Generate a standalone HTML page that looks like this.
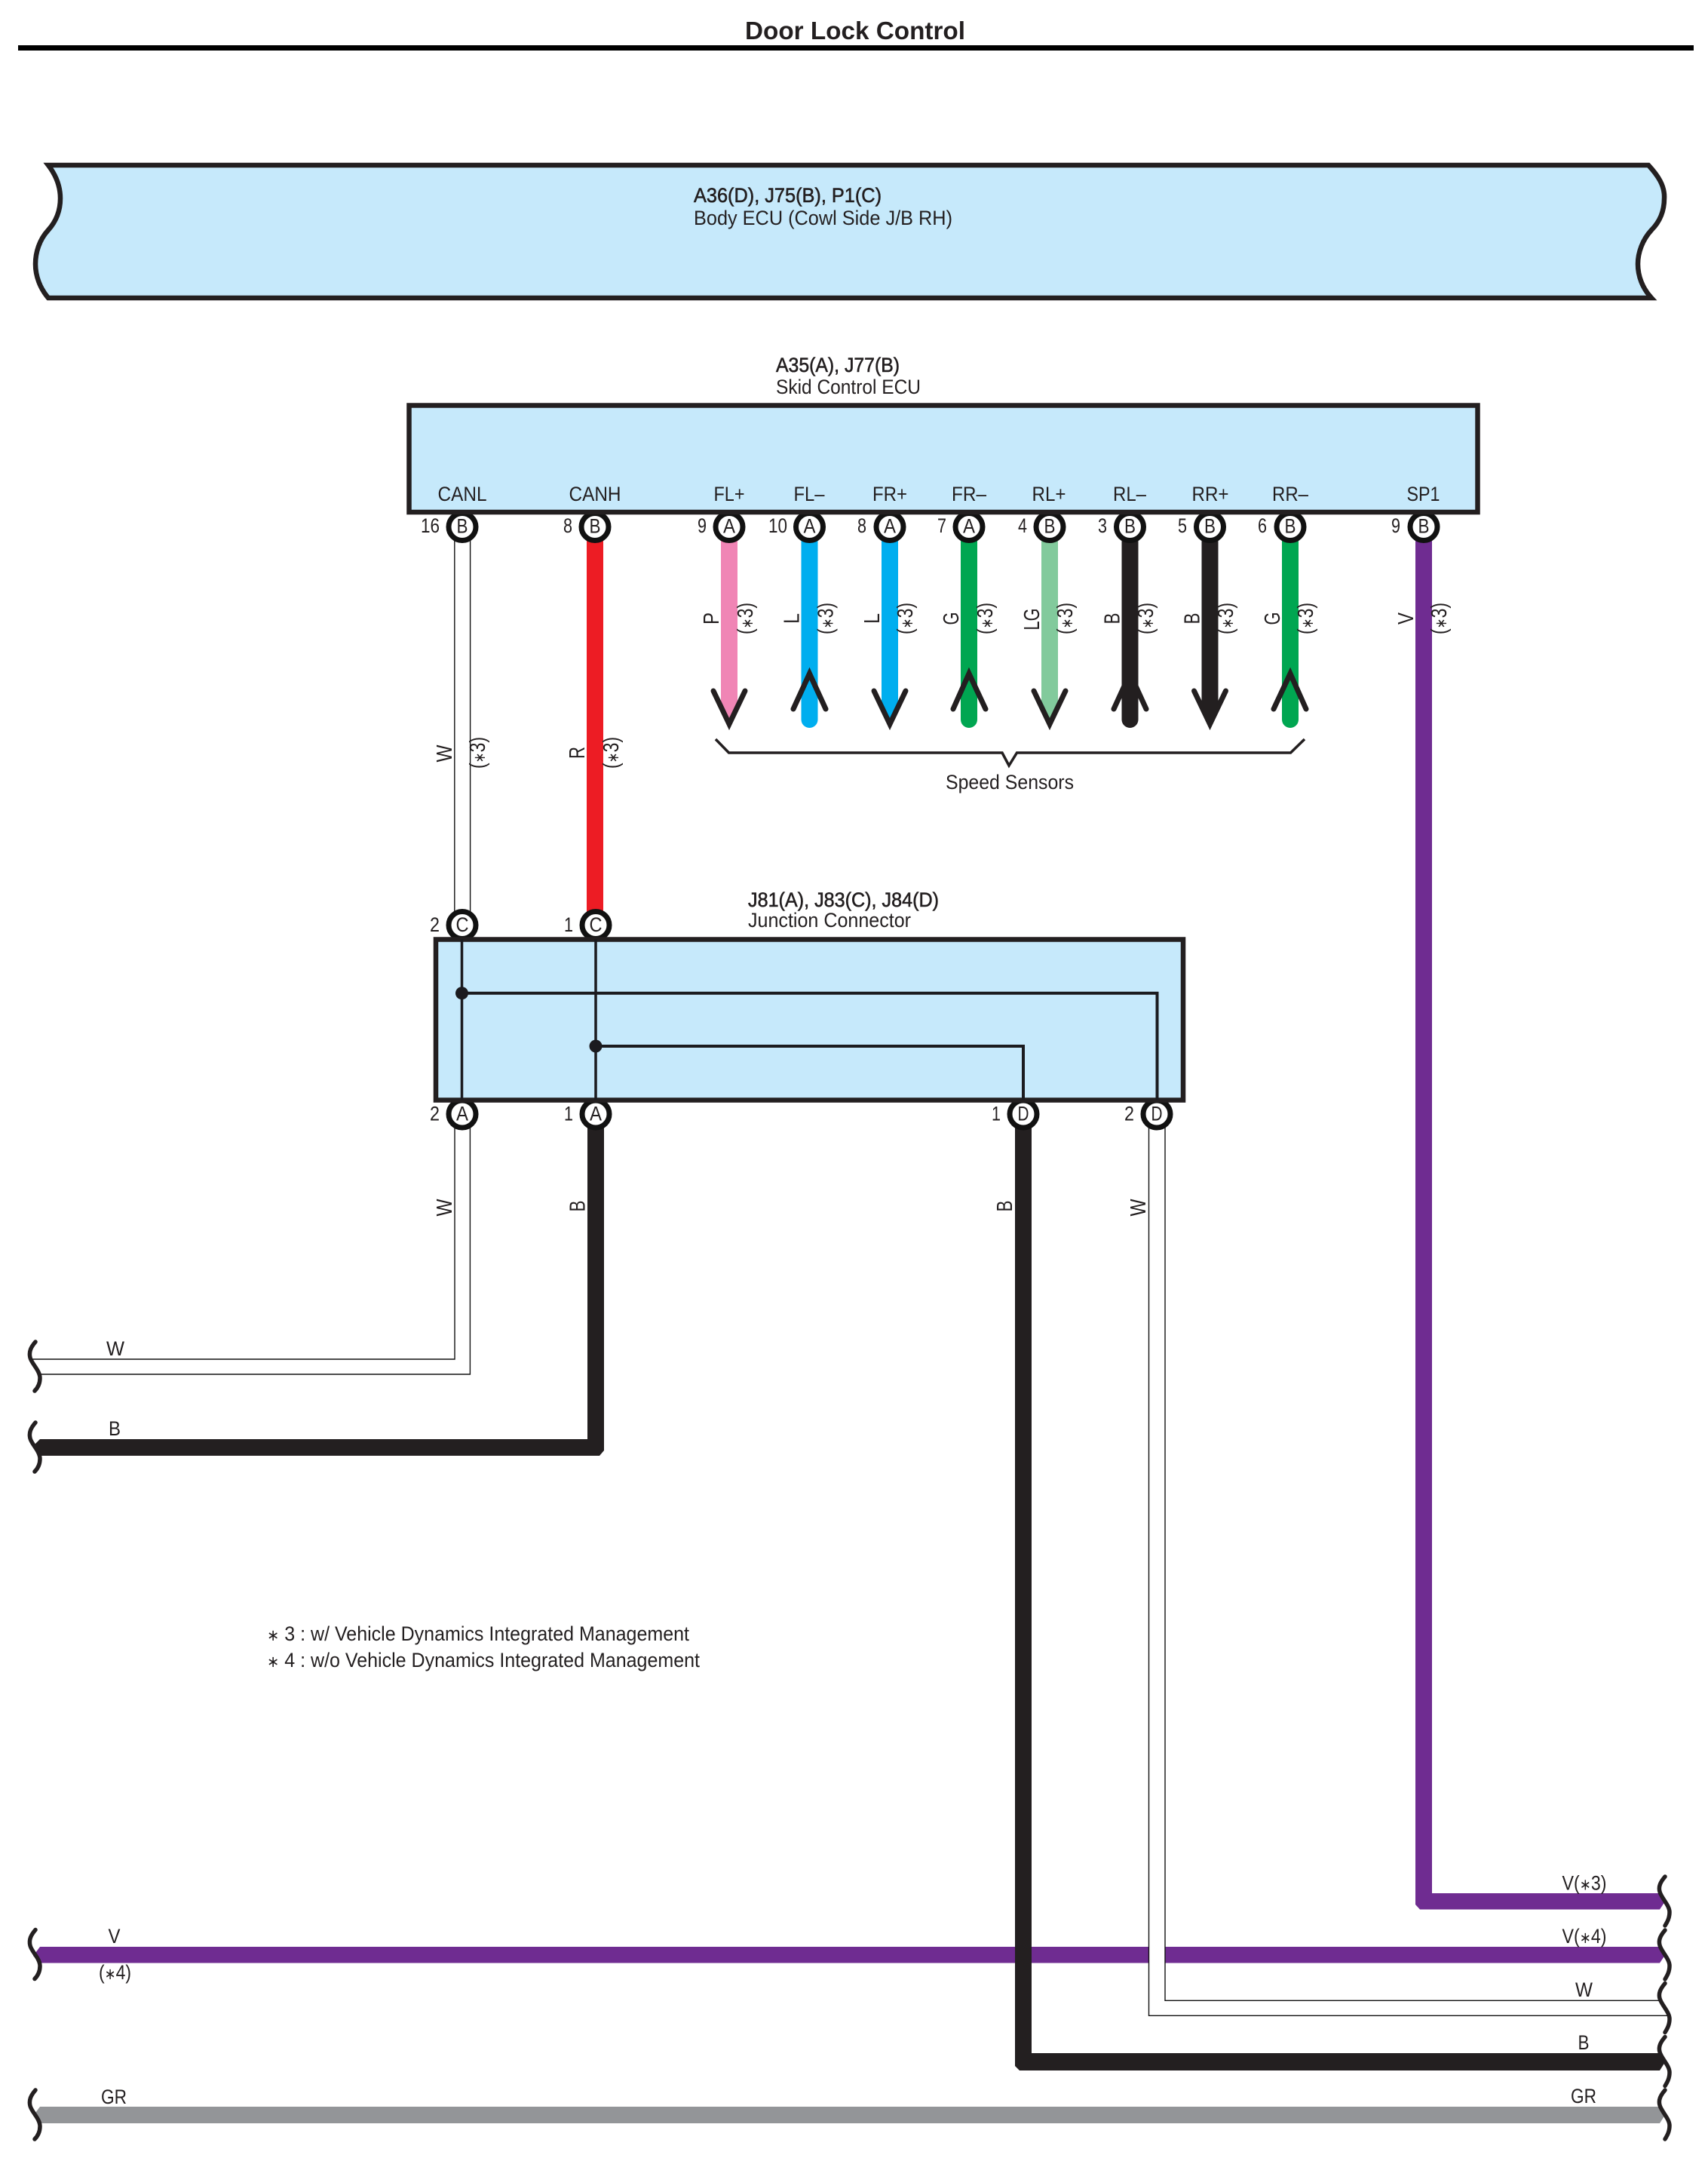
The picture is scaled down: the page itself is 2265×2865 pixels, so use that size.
<!DOCTYPE html>
<html><head><meta charset="utf-8"><title>Door Lock Control</title>
<style>
html,body{margin:0;padding:0;background:#fff}
svg{display:block}
text{font-family:"Liberation Sans",sans-serif;fill:#231f20;font-size:27px}
tspan{font-size:21px}
.b{font-weight:bold}
.s{stroke:#231f20;stroke-width:.6px}
.m{text-anchor:middle}
.r{font-size:29px;text-anchor:middle}
.pin circle{fill:#fff;stroke:#111;stroke-width:7}
.wv{fill:none;stroke:#231f20;stroke-width:5.5;stroke-linecap:round}
.th{fill:none;stroke:#111;stroke-width:1.4}
.ar{fill:none;stroke:#231f20;stroke-width:7;stroke-linecap:round;stroke-linejoin:miter}
</style></head>
<body>
<svg xmlns="http://www.w3.org/2000/svg" width="2265" height="2865" viewBox="0 0 2265 2865">
<rect width="2265" height="2865" fill="#fff"/>

<!-- title -->
<text x="988" y="52" class="b" style="font-size:33px" textLength="292" lengthAdjust="spacingAndGlyphs">Door Lock Control</text>
<rect x="24" y="60" width="2222" height="7" fill="#000"/>

<!-- body ecu -->
<path d="M64 219H2186C2198 232 2208 246 2207 263C2207 282 2200 295 2190 305C2178 318 2172 335 2172 350C2172 366 2178 382 2190 395H64C53 382 47 366 47 350C47 335 52 318 64 305C73 295 80 282 80 263C80 246 74 232 64 219Z" fill="#c6e9fb" stroke="#231f20" stroke-width="6.5"/>
<text x="920" y="268" class="s" textLength="249" lengthAdjust="spacingAndGlyphs">A36(D), J75(B), P1(C)</text>
<text x="920" y="298" textLength="343" lengthAdjust="spacingAndGlyphs">Body ECU (Cowl Side J/B RH)</text>

<!-- skid title -->
<text x="1029" y="493" class="s" textLength="164" lengthAdjust="spacingAndGlyphs">A35(A), J77(B)</text>
<text x="1029" y="522" textLength="192" lengthAdjust="spacingAndGlyphs">Skid Control ECU</text>

<!-- long wires -->
<path d="M53 2581H2200L2208 2592L2201 2602.5H53L44 2593Z" fill="#6f2c91"/>
<path d="M53 2793H2200L2208 2804L2201 2815H53L44 2805Z" fill="#939598"/>
<path d="M1877 698H1899V2510H2200L2208 2521L2201 2531.5H1883L1877 2525Z" fill="#6f2c91"/>
<path d="M779 1477H801V1923L795 1930H53L44 1917L53 1908H779Z" fill="#231f20"/>
<path d="M1524 1477H1545V2652H2204V2672H1524Z" fill="#fff"/>
<path class="th" d="M1545 1477V2652.3H2201"/>
<path class="th" d="M1523.5 1477V2672.3H2213"/>
<path d="M1346 1477H1368V2722H2200L2208 2734L2201 2745H1352L1346 2739Z" fill="#231f20"/>
<path class="th" d="M603 1477V1802H42"/>
<path class="th" d="M623.4 1477V1822H52"/>

<!-- W top -->
<path class="th" d="M602.8 698V1226"/>
<path class="th" d="M623.6 698V1226"/>
<!-- R -->
<rect x="778" y="698" width="22" height="520" fill="#ed1c24"/>

<!-- sensor wires -->
<path d="M956 698H978V936L967 960L956 936Z" fill="#f085b5"/>
<path d="M1062.5 698H1084.5V954A11 11 0 0 1 1062.5 954Z" fill="#00aeef"/>
<path d="M1169 698H1191V936L1180 960L1169 936Z" fill="#00aeef"/>
<path d="M1274 698H1296V954A11 11 0 0 1 1274 954Z" fill="#00a651"/>
<path d="M1381 698H1403V936L1392 960L1381 936Z" fill="#82ca9c"/>
<path d="M1487.5 698H1509.5V954A11 11 0 0 1 1487.5 954Z" fill="#231f20"/>
<path d="M1593.5 698H1615.5V936L1604.5 960L1593.5 936Z" fill="#231f20"/>
<path d="M1700 698H1722V954A11 11 0 0 1 1700 954Z" fill="#00a651"/>

<!-- arrowheads -->
<path class="ar" d="M946 916L967 960L988 916"/>
<path class="ar" d="M1052 940L1073.5 893L1095 940"/>
<path class="ar" d="M1159 916L1180 960L1201 916"/>
<path class="ar" d="M1264 940L1285 893L1307 940"/>
<path class="ar" d="M1371 916L1392 960L1413 916"/>
<path class="ar" d="M1477 940L1498.5 893L1520 940"/>
<path class="ar" d="M1583.5 916L1604.5 960L1625.5 916"/>
<path class="ar" d="M1689 940L1711 893L1732 940"/>

<!-- pins -->
<g class="pin">
<circle cx="613" cy="698.5" r="18"/><circle cx="789" cy="698.5" r="18"/><circle cx="967" cy="698.5" r="18"/><circle cx="1073.5" cy="698.5" r="18"/><circle cx="1180" cy="698.5" r="18"/><circle cx="1285" cy="698.5" r="18"/><circle cx="1392" cy="698.5" r="18"/><circle cx="1498.5" cy="698.5" r="18"/><circle cx="1604.5" cy="698.5" r="18"/><circle cx="1711" cy="698.5" r="18"/><circle cx="1888" cy="698.5" r="18"/>
<circle cx="613" cy="1226.5" r="18"/><circle cx="790" cy="1226.5" r="18"/>
<circle cx="613" cy="1477" r="18"/><circle cx="790" cy="1477" r="18"/><circle cx="1357" cy="1477" r="18"/><circle cx="1534" cy="1477" r="18"/>
</g>

<!-- skid box -->
<rect x="542.5" y="537.5" width="1417" height="141.5" fill="#c6e9fb" stroke="#231f20" stroke-width="6.5"/>
<text x="613" y="664" class="m" textLength="65" lengthAdjust="spacingAndGlyphs">CANL</text>
<text x="789" y="664" class="m" textLength="69" lengthAdjust="spacingAndGlyphs">CANH</text>
<text x="967" y="664" class="m" textLength="41" lengthAdjust="spacingAndGlyphs">FL+</text>
<text x="1073" y="664" class="m" textLength="41" lengthAdjust="spacingAndGlyphs">FL–</text>
<text x="1180" y="664" class="m" textLength="46" lengthAdjust="spacingAndGlyphs">FR+</text>
<text x="1285" y="664" class="m" textLength="46" lengthAdjust="spacingAndGlyphs">FR–</text>
<text x="1391" y="664" class="m" textLength="45" lengthAdjust="spacingAndGlyphs">RL+</text>
<text x="1498" y="664" class="m" textLength="44" lengthAdjust="spacingAndGlyphs">RL–</text>
<text x="1605" y="664" class="m" textLength="49" lengthAdjust="spacingAndGlyphs">RR+</text>
<text x="1711" y="664" class="m" textLength="48" lengthAdjust="spacingAndGlyphs">RR–</text>
<text x="1887.5" y="664" class="m" textLength="44" lengthAdjust="spacingAndGlyphs">SP1</text>

<!-- pin letters -->
<text x="613" y="706.5" class="m" textLength="15" lengthAdjust="spacingAndGlyphs">B</text>
<text x="789" y="706.5" class="m" textLength="15" lengthAdjust="spacingAndGlyphs">B</text>
<text x="967" y="706.5" class="m" textLength="16" lengthAdjust="spacingAndGlyphs">A</text>
<text x="1073.5" y="706.5" class="m" textLength="16" lengthAdjust="spacingAndGlyphs">A</text>
<text x="1180" y="706.5" class="m" textLength="16" lengthAdjust="spacingAndGlyphs">A</text>
<text x="1285" y="706.5" class="m" textLength="16" lengthAdjust="spacingAndGlyphs">A</text>
<text x="1392" y="706.5" class="m" textLength="15" lengthAdjust="spacingAndGlyphs">B</text>
<text x="1498.5" y="706.5" class="m" textLength="15" lengthAdjust="spacingAndGlyphs">B</text>
<text x="1604.5" y="706.5" class="m" textLength="15" lengthAdjust="spacingAndGlyphs">B</text>
<text x="1711" y="706.5" class="m" textLength="15" lengthAdjust="spacingAndGlyphs">B</text>
<text x="1888" y="706.5" class="m" textLength="15" lengthAdjust="spacingAndGlyphs">B</text>

<!-- pin numbers -->
<text x="558" y="706" textLength="25" lengthAdjust="spacingAndGlyphs">16</text>
<text x="747" y="706" textLength="12" lengthAdjust="spacingAndGlyphs">8</text>
<text x="925" y="706" textLength="12" lengthAdjust="spacingAndGlyphs">9</text>
<text x="1019" y="706" textLength="25" lengthAdjust="spacingAndGlyphs">10</text>
<text x="1137" y="706" textLength="12" lengthAdjust="spacingAndGlyphs">8</text>
<text x="1243" y="706" textLength="12" lengthAdjust="spacingAndGlyphs">7</text>
<text x="1350" y="706" textLength="12" lengthAdjust="spacingAndGlyphs">4</text>
<text x="1456" y="706" textLength="12" lengthAdjust="spacingAndGlyphs">3</text>
<text x="1562" y="706" textLength="12" lengthAdjust="spacingAndGlyphs">5</text>
<text x="1668" y="706" textLength="12" lengthAdjust="spacingAndGlyphs">6</text>
<text x="1845" y="706" textLength="12" lengthAdjust="spacingAndGlyphs">9</text>

<!-- rotated sensor labels -->
<text class="r" transform="translate(953,820) rotate(-90)" textLength="16" lengthAdjust="spacingAndGlyphs">P</text>
<text class="r" transform="translate(998,820) rotate(-90)" textLength="42" lengthAdjust="spacingAndGlyphs">(<tspan>∗</tspan>3)</text>
<text class="r" transform="translate(1059.5,820) rotate(-90)" textLength="14" lengthAdjust="spacingAndGlyphs">L</text>
<text class="r" transform="translate(1104.5,820) rotate(-90)" textLength="42" lengthAdjust="spacingAndGlyphs">(<tspan>∗</tspan>3)</text>
<text class="r" transform="translate(1166,820) rotate(-90)" textLength="14" lengthAdjust="spacingAndGlyphs">L</text>
<text class="r" transform="translate(1210,820) rotate(-90)" textLength="42" lengthAdjust="spacingAndGlyphs">(<tspan>∗</tspan>3)</text>
<text class="r" transform="translate(1271,820) rotate(-90)" textLength="17" lengthAdjust="spacingAndGlyphs">G</text>
<text class="r" transform="translate(1316,820) rotate(-90)" textLength="42" lengthAdjust="spacingAndGlyphs">(<tspan>∗</tspan>3)</text>
<text class="r" transform="translate(1378,821) rotate(-90)" textLength="29" lengthAdjust="spacingAndGlyphs">LG</text>
<text class="r" transform="translate(1422,820) rotate(-90)" textLength="42" lengthAdjust="spacingAndGlyphs">(<tspan>∗</tspan>3)</text>
<text class="r" transform="translate(1484.5,820) rotate(-90)" textLength="15" lengthAdjust="spacingAndGlyphs">B</text>
<text class="r" transform="translate(1529,820) rotate(-90)" textLength="42" lengthAdjust="spacingAndGlyphs">(<tspan>∗</tspan>3)</text>
<text class="r" transform="translate(1590.5,820) rotate(-90)" textLength="15" lengthAdjust="spacingAndGlyphs">B</text>
<text class="r" transform="translate(1635,820) rotate(-90)" textLength="42" lengthAdjust="spacingAndGlyphs">(<tspan>∗</tspan>3)</text>
<text class="r" transform="translate(1697,820) rotate(-90)" textLength="17" lengthAdjust="spacingAndGlyphs">G</text>
<text class="r" transform="translate(1741,820) rotate(-90)" textLength="42" lengthAdjust="spacingAndGlyphs">(<tspan>∗</tspan>3)</text>
<text class="r" transform="translate(1874,820) rotate(-90)" textLength="16" lengthAdjust="spacingAndGlyphs">V</text>
<text class="r" transform="translate(1918,820) rotate(-90)" textLength="42" lengthAdjust="spacingAndGlyphs">(<tspan>∗</tspan>3)</text>

<text class="r" transform="translate(599,999) rotate(-90)" textLength="23" lengthAdjust="spacingAndGlyphs">W</text>
<text class="r" transform="translate(643,998) rotate(-90)" textLength="42" lengthAdjust="spacingAndGlyphs">(<tspan>∗</tspan>3)</text>
<text class="r" transform="translate(775,998) rotate(-90)" textLength="16" lengthAdjust="spacingAndGlyphs">R</text>
<text class="r" transform="translate(820,998) rotate(-90)" textLength="42" lengthAdjust="spacingAndGlyphs">(<tspan>∗</tspan>3)</text>

<!-- brace -->
<path d="M949 980L966.5 998H1329L1338 1015L1348.5 998H1711.5L1730 980" fill="none" stroke="#231f20" stroke-width="3.5"/>
<text x="1339" y="1046" class="m" textLength="170" lengthAdjust="spacingAndGlyphs">Speed Sensors</text>

<!-- junction -->
<text x="992" y="1202" class="s" textLength="253" lengthAdjust="spacingAndGlyphs">J81(A), J83(C), J84(D)</text>
<text x="992" y="1229" textLength="216" lengthAdjust="spacingAndGlyphs">Junction Connector</text>
<rect x="578" y="1245.5" width="991" height="213" fill="#c6e9fb" stroke="#231f20" stroke-width="6.5"/>
<path d="M612.5 1245V1458M790 1245V1458" fill="none" stroke="#1b1b1f" stroke-width="3.5"/>
<path d="M612.5 1316.7H1534.5V1458M790 1387H1357V1458" fill="none" stroke="#1b1b1f" stroke-width="4"/>
<circle cx="612.5" cy="1316.7" r="8.5" fill="#1b1b1f"/>
<circle cx="790" cy="1387" r="8.5" fill="#1b1b1f"/>

<text x="613" y="1235" class="m" textLength="17" lengthAdjust="spacingAndGlyphs">C</text>
<text x="790" y="1235" class="m" textLength="17" lengthAdjust="spacingAndGlyphs">C</text>
<text x="613" y="1485.5" class="m" textLength="16" lengthAdjust="spacingAndGlyphs">A</text>
<text x="790" y="1485.5" class="m" textLength="16" lengthAdjust="spacingAndGlyphs">A</text>
<text x="1357" y="1485.5" class="m" textLength="15" lengthAdjust="spacingAndGlyphs">D</text>
<text x="1534" y="1485.5" class="m" textLength="15" lengthAdjust="spacingAndGlyphs">D</text>
<text x="570" y="1235" textLength="13" lengthAdjust="spacingAndGlyphs">2</text>
<text x="748" y="1235" textLength="12" lengthAdjust="spacingAndGlyphs">1</text>
<text x="570" y="1485.5" textLength="13" lengthAdjust="spacingAndGlyphs">2</text>
<text x="748" y="1485.5" textLength="12" lengthAdjust="spacingAndGlyphs">1</text>
<text x="1315" y="1485.5" textLength="12" lengthAdjust="spacingAndGlyphs">1</text>
<text x="1491" y="1485.5" textLength="13" lengthAdjust="spacingAndGlyphs">2</text>

<text class="r" transform="translate(599,1601) rotate(-90)" textLength="23" lengthAdjust="spacingAndGlyphs">W</text>
<text class="r" transform="translate(775.5,1599) rotate(-90)" textLength="15" lengthAdjust="spacingAndGlyphs">B</text>
<text class="r" transform="translate(1342,1599) rotate(-90)" textLength="15" lengthAdjust="spacingAndGlyphs">B</text>
<text class="r" transform="translate(1519,1601) rotate(-90)" textLength="23" lengthAdjust="spacingAndGlyphs">W</text>

<!-- left labels -->
<text x="153" y="1797" class="m" textLength="24" lengthAdjust="spacingAndGlyphs">W</text>
<text x="152" y="1903" class="m" textLength="16" lengthAdjust="spacingAndGlyphs">B</text>
<text x="151.5" y="2576" class="m" textLength="16" lengthAdjust="spacingAndGlyphs">V</text>
<text x="152.5" y="2624" class="m" textLength="43" lengthAdjust="spacingAndGlyphs">(<tspan>∗</tspan>4)</text>
<text x="151" y="2789" class="m" textLength="34" lengthAdjust="spacingAndGlyphs">GR</text>

<!-- right labels -->
<text x="2101" y="2505.5" class="m" textLength="59" lengthAdjust="spacingAndGlyphs">V(<tspan>∗</tspan>3)</text>
<text x="2101" y="2576" class="m" textLength="59" lengthAdjust="spacingAndGlyphs">V(<tspan>∗</tspan>4)</text>
<text x="2100.5" y="2647" class="m" textLength="23" lengthAdjust="spacingAndGlyphs">W</text>
<text x="2100" y="2717" class="m" textLength="15" lengthAdjust="spacingAndGlyphs">B</text>
<text x="2100" y="2788" class="m" textLength="34" lengthAdjust="spacingAndGlyphs">GR</text>

<!-- legend -->
<text x="354" y="2175" textLength="560" lengthAdjust="spacingAndGlyphs"><tspan>∗</tspan> 3 : w/ Vehicle Dynamics Integrated Management</text>
<text x="354" y="2210" textLength="574" lengthAdjust="spacingAndGlyphs"><tspan>∗</tspan> 4 : w/o Vehicle Dynamics Integrated Management</text>

<!-- break waves left -->
<path class="wv" d="M47 1779c-6 7-9 13-7 21c2 8 13 17 13 27c0 8-3 13-7 17"/>
<path class="wv" d="M47 1886c-6 7-9 13-7 21c2 8 13 17 13 27c0 8-3 13-7 17"/>
<path class="wv" d="M47 2558.5c-6 7-9 13-7 21c2 8 13 17 13 27c0 8-3 13-7 17"/>
<path class="wv" d="M47 2771c-6 7-9 13-7 21c2 8 13 17 13 27c0 8-3 13-7 17"/>
<!-- break waves right -->
<path class="wv" d="M2208 2488c-6 7-9 13-7 20c2 8 13 18 13 27c0 8-3 13-6 18"/>
<path class="wv" d="M2208 2559c-6 7-9 13-7 20c2 8 13 18 13 27c0 8-3 13-6 18"/>
<path class="wv" d="M2208 2629.5c-6 7-9 13-7 20c2 8 13 18 13 27c0 8-3 13-6 18"/>
<path class="wv" d="M2208 2700.5c-6 7-9 13-7 20c2 8 13 18 13 27c0 8-3 13-6 18"/>
<path class="wv" d="M2208 2771c-6 7-9 13-7 20c2 8 13 18 13 27c0 8-3 13-6 18"/>
</svg>
</body></html>
